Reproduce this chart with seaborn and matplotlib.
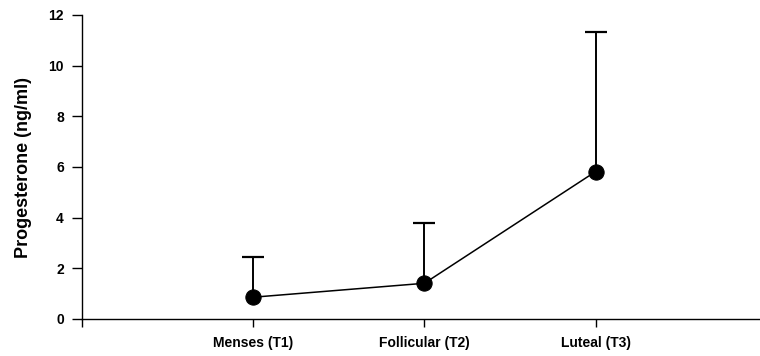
import matplotlib
matplotlib.use("Agg")
import matplotlib.pyplot as plt
import seaborn as sns
import numpy as np
import pandas as pd

categories = ["Menses (T1)", "Follicular (T2)", "Luteal (T3)"]
means = [0.86, 1.41, 5.82]
upper = [2.46, 3.79, 11.32]

sns.set_style("ticks")
plt.rcParams['font.family'] = ['Liberation Sans', 'DejaVu Sans']
plt.rcParams['font.weight'] = 'bold'
plt.rcParams['text.color'] = 'black'
plt.rcParams['axes.labelcolor'] = 'black'
plt.rcParams['xtick.color'] = 'black'
plt.rcParams['ytick.color'] = 'black'

pos = np.arange(1, len(categories) + 1)
df = pd.DataFrame({"pos": pos, "mean": means, "upper": upper, "cat": categories})

fig = plt.figure(figsize=(7.6, 3.56), dpi=100)
ax = fig.add_axes([82/760, 37/356, 1 - 82/760, 304/356])

err_up = np.array(upper) - np.array(means)
ax.errorbar(pos, means, yerr=[np.zeros(len(pos)), err_up], fmt='none',
            ecolor='black', elinewidth=1.4, capsize=0, zorder=2)
ax.plot(pos, upper, linestyle='none', marker='_', markersize=16,
        markeredgewidth=1.6, color='black', zorder=2)
sns.lineplot(data=df, x="pos", y="mean", ax=ax, color='black', linewidth=1.1,
             marker='o', markersize=11, markeredgecolor='black',
             markerfacecolor='black', zorder=3)

ax.set_xlim(0, 3.96)
ax.set_ylim(0, 12)
ax.set_xticks([0] + list(pos))
ax.set_xticklabels([""] + categories, fontsize=10, fontweight='bold', color='black')
ax.set_yticks(np.arange(0, 13, 2))
ax.set_yticklabels([str(v) for v in range(0, 13, 2)], fontsize=10, fontweight='bold', color='black')
ax.set_xlabel("")
ax.set_ylabel("Progesterone (ng/ml)", fontsize=13, fontweight='bold', labelpad=12, color='black')

for s in ['top', 'right']:
    ax.spines[s].set_visible(False)
for s in ['left', 'bottom']:
    ax.spines[s].set_linewidth(1.0)
    ax.spines[s].set_color('black')
ax.tick_params(axis='y', length=7, width=1.0, color='black', labelcolor='black', pad=6)
ax.tick_params(axis='x', length=6, width=1.0, color='black', labelcolor='black', pad=6)

fig.savefig("out.png", dpi=100)
